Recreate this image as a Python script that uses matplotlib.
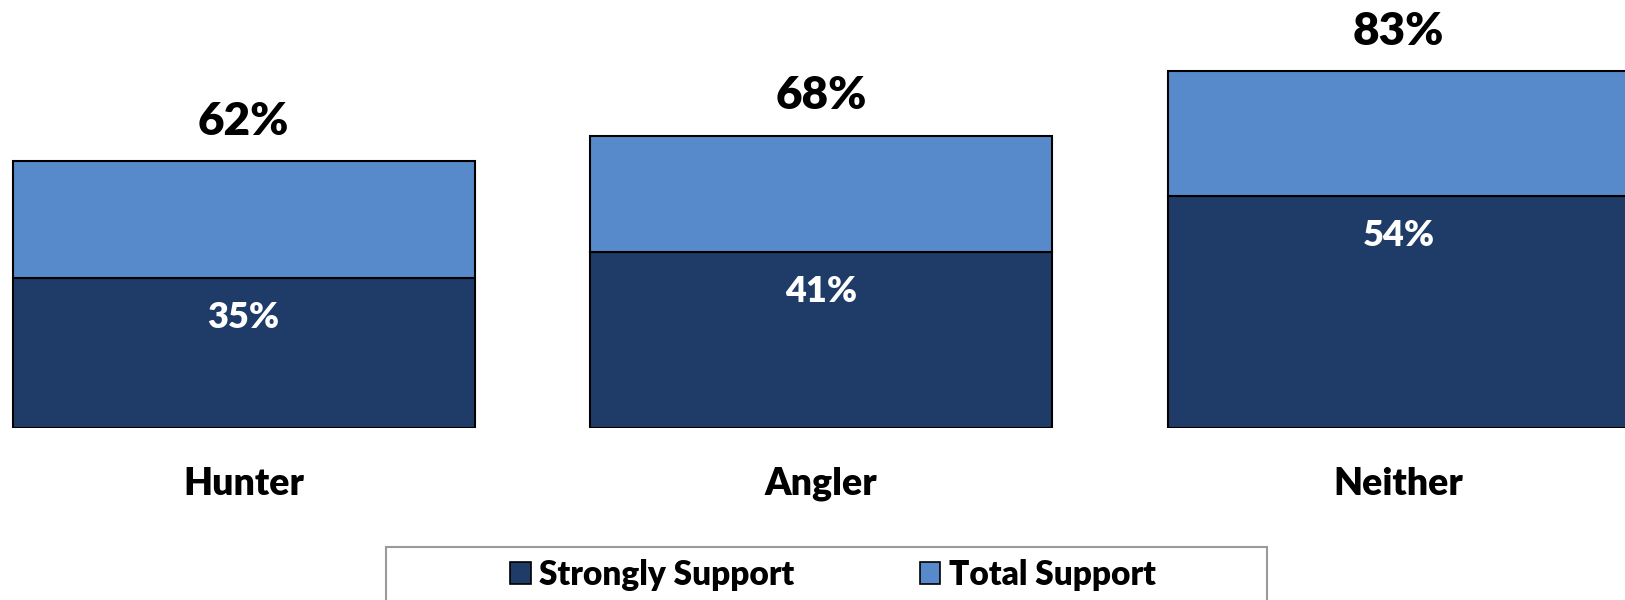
import matplotlib
matplotlib.use("Agg")
import matplotlib.pyplot as plt
from matplotlib.patches import Patch, Rectangle

plt.rcParams["font.family"] = ["Lato", "DejaVu Sans"]
plt.rcParams["font.weight"] = "heavy"

categories = ["Hunter", "Angler", "Neither"]
strongly_support = [35, 41, 54]
total_support = [62, 68, 83]

DARK = "#1E3C67"
LIGHT = "#568ACA"
W = "heavy"

fig = plt.figure(figsize=(16.25, 6), dpi=100)
ax = fig.add_axes([0, 172 / 600, 1, 430 / 600])

x = list(range(len(categories)))
rest = [t - s for t, s in zip(total_support, strongly_support)]

ax.bar(x, strongly_support, width=0.8, color=DARK, edgecolor="black",
       linewidth=1.5, label="Strongly Support")
ax.bar(x, rest, width=0.8, bottom=strongly_support, color=LIGHT,
       edgecolor="black", linewidth=1.5, label="Total Support")

for xi, s, t in zip(x, strongly_support, total_support):
    ax.annotate(f"{s}%", (xi, s), xytext=(0, -40), textcoords="offset pixels",
                ha="center", va="center", color="white", fontsize=26,
                fontweight=W)
    ax.annotate(f"{t}%", (xi, t), xytext=(0, 40), textcoords="offset pixels",
                ha="center", va="center", color="black", fontsize=33,
                fontweight=W)
    ax.annotate(categories[xi], (xi, 0), xytext=(0, -56),
                textcoords="offset pixels", ha="center", va="center",
                color="black", fontsize=27, fontweight=W,
                annotation_clip=False)

ax.set_xlim(-243.5 / 577.5, (1625 - 243.5) / 577.5)
ax.set_ylim(0, 100)
ax.axis("off")

# legend frame (runs off the bottom of the figure)
fig.patches.append(Rectangle((385.5 / 1625, -0.05), 881 / 1625, 0.05 + 53 / 600,
                             transform=fig.transFigure, fill=False,
                             edgecolor="#9a9a9a", linewidth=1.5))

handles = [Patch(facecolor=DARK, edgecolor="black", linewidth=1.2),
           Patch(facecolor=LIGHT, edgecolor="black", linewidth=1.2)]
fig.legend(handles, ["Strongly Support", "Total Support"], ncol=2,
           loc="center", bbox_to_anchor=(833 / 1625, 1 - 575 / 600),
           frameon=False, handlelength=0.62, handleheight=0.62,
           handletextpad=0.25, columnspacing=3.75,
           prop={"weight": W, "size": 24})

fig.savefig("out.png", dpi=100)
